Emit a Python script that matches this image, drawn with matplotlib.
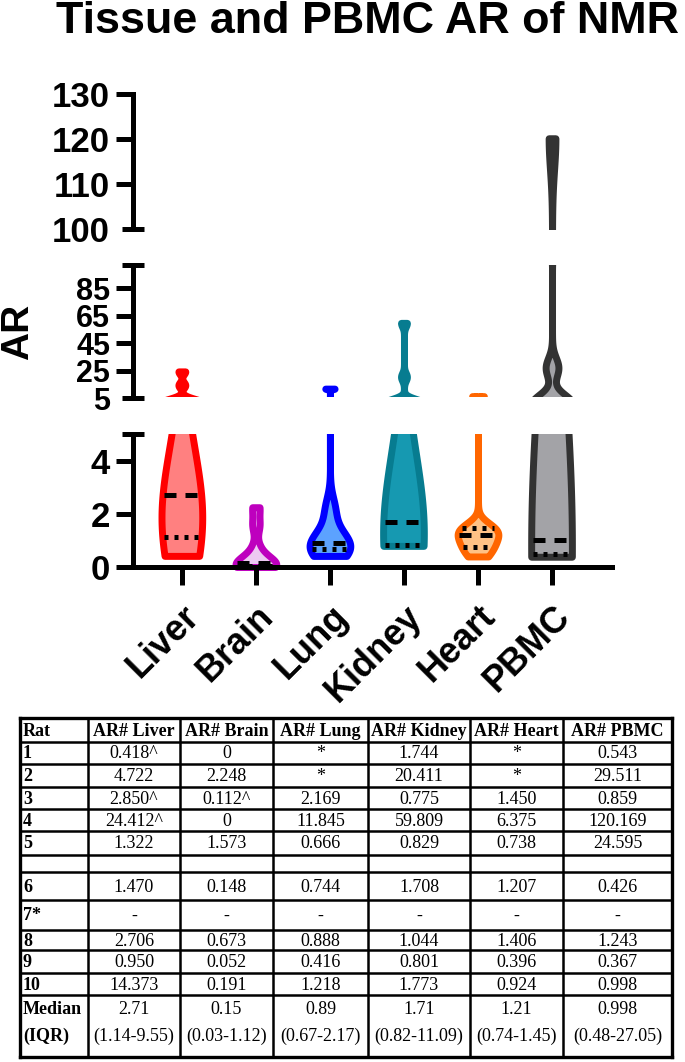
import numpy as np
import matplotlib
matplotlib.use('Agg')
import matplotlib.pyplot as plt
from matplotlib import cbook, mlab
from matplotlib.patches import Rectangle

plt.rcParams['font.family'] = ['Liberation Sans', 'DejaVu Sans']

# ---------------- data ----------------
title = 'Tissue and PBMC AR of NMR'
ylabel = 'AR'
categories = ['Liver', 'Brain', 'Lung', 'Kidney', 'Heart', 'PBMC']
liver = [0.418, 4.722, 2.850, 24.412, 1.322, 1.470, 2.706, 0.950, 14.373]
brain = [0, 2.248, 0.112, 0, 1.573, 0.148, 0.673, 0.052, 0.191]
lung = [2.169, 11.845, 0.666, 0.744, 0.888, 0.416, 1.218]
kidney = [1.744, 20.411, 0.775, 59.809, 0.829, 1.708, 1.044, 0.801, 1.773]
heart = [1.450, 6.375, 0.738, 1.207, 1.406, 0.396, 0.924]
pbmc = [0.543, 29.511, 0.859, 120.169, 24.595, 0.426, 1.243, 0.367, 0.998]
series = [liver, brain, lung, kidney, heart, pbmc]
medians = [2.71, 0.15, 0.89, 1.71, 1.21, 0.998]
q1 = [1.14, 0.03, 0.67, 0.82, 0.74, 0.48]
q3 = [9.55, 1.12, 2.17, 11.09, 1.45, 27.05]

top_ticks = [100, 110, 120, 130]
mid_ticks = [5, 25, 45, 65, 85]
bot_ticks = [0, 2, 4]

table_header = ['Rat', 'AR# Liver', 'AR# Brain', 'AR# Lung', 'AR# Kidney', 'AR# Heart', 'AR# PBMC']
rat_ids = ['1', '2', '3', '4', '5', '6', '7*', '8', '9', '10']
tab_liver = ['0.418^', '4.722', '2.850^', '24.412^', '1.322', '1.470', '-', '2.706', '0.950', '14.373']
tab_brain = ['0', '2.248', '0.112^', '0', '1.573', '0.148', '-', '0.673', '0.052', '0.191']
tab_lung = ['*', '*', '2.169', '11.845', '0.666', '0.744', '-', '0.888', '0.416', '1.218']
tab_kidney = ['1.744', '20.411', '0.775', '59.809', '0.829', '1.708', '-', '1.044', '0.801', '1.773']
tab_heart = ['*', '*', '1.450', '6.375', '0.738', '1.207', '-', '1.406', '0.396', '0.924']
tab_pbmc = ['0.543', '29.511', '0.859', '120.169', '24.595', '0.426', '-', '1.243', '0.367', '0.998']
table_cols = [tab_liver, tab_brain, tab_lung, tab_kidney, tab_heart, tab_pbmc]
median_label = 'Median\n(IQR)'
median_text = ['2.71\n(1.14-9.55)', '0.15\n(0.03-1.12)', '0.89\n(0.67-2.17)',
               '1.71\n(0.82-11.09)', '1.21\n(0.74-1.45)', '0.998\n(0.48-27.05)']

# ---------------- style ----------------
edge_colors = ['#FF0000', '#BE00BE', '#0000FF', '#077C90', '#FF6600', '#333333']
fill_colors = ['#FF8080', '#EDC9F2', '#5CA2FF', '#1699B1', '#FFC285', '#A3A3A7']
bandwidths = [2.2, 0.3, 0.5, 3.0, 0.3, 7.0]
VW = 0.55

W, H = 685, 1062
fig = plt.figure(figsize=(W / 100, H / 100), dpi=100)


def axpix(l, t, r, b):
    return fig.add_axes([l / W, 1 - b / H, (r - l) / W, (b - t) / H])


ax_top = axpix(133, 94, 612, 229)
ax_mid = axpix(133, 265, 612, 398)
ax_bot = axpix(133, 434, 612, 567)
segments = [(ax_top, (100, 130), (0.0, 1.08), top_ticks, 25),
            (ax_mid, (5, 102), (0.012, 1.0), mid_ticks, 22),
            (ax_bot, (0, 5), (-0.07, 1.0), bot_ticks, 25)]

positions = np.arange(1, len(categories) + 1)

stats_all = []
for data, bw in zip(series, bandwidths):
    X = np.asarray(data, float)
    fac = bw / np.std(X, ddof=1)
    st = cbook.violin_stats([X], lambda d, c, f=fac: mlab.GaussianKDE(d, f).evaluate(c), points=4000)
    stats_all.append(st)

for ax, ylim, (c0, c1), ticks, lfs in segments:
    for i in range(len(categories)):
        parts = ax.violin(stats_all[i], positions=[positions[i]], widths=VW,
                          showmeans=False, showextrema=False, showmedians=False)
        for b in parts['bodies']:
            b.set_facecolor(fill_colors[i])
            b.set_edgecolor(edge_colors[i])
            b.set_linewidth(5)
            b.set_alpha(1)
            b.set_joinstyle('round')
            clip = Rectangle((-0.05, c0), 1.1, c1 - c0, transform=ax.transAxes)
            b.set_clip_path(clip)
    ax.set_xlim(0.34, 6.81)
    ax.set_ylim(*ylim)
    ax.set_yticks(ticks, labels=[str(t) for t in ticks], fontsize=lfs, fontweight='bold')
    ax.tick_params(axis='y', direction='out', length=12.5, width=3.6, pad=4)
    for s in ['top', 'right']:
        ax.spines[s].set_visible(False)
    ax.spines['left'].set_linewidth(3.6)
    ax.patch.set_alpha(0)

for ax in (ax_top, ax_mid):
    ax.spines['bottom'].set_visible(False)
    ax.tick_params(axis='x', bottom=False, labelbottom=False)
    ax.yaxis.get_major_ticks()[0].tick1line.set_visible(False)

ax_bot.spines['bottom'].set_linewidth(3.6)
ax_bot.set_xticks(positions, labels=categories, rotation=45, ha='right',
                  rotation_mode='anchor', fontsize=26, fontweight='bold')
ax_bot.tick_params(axis='x', direction='out', length=13, width=3.6, pad=10)

# break caps
for ax, y in [(ax_top, 0), (ax_mid, 0), (ax_mid, 1), (ax_bot, 1)]:
    ax.plot([0], [y], marker='_', ms=16, mew=3.6, color='k',
            transform=ax.transAxes, clip_on=False)

# median / quartile lines
dashed = (0, (2.4, 1.8))
dotted = (0, (0.8, 1.2))
for i in range(len(categories)):
    st = stats_all[i][0]
    coords, vals = st['coords'], st['vals']
    scale = VW / 2 / vals.max()
    for v, ls in [(q1[i], dotted), (q3[i], dotted), (medians[i], dashed)]:
        if v > 5:
            continue
        hw = np.interp(v, coords, vals) * scale * 0.92
        if hw < 0.1:
            continue
        ax_bot.plot([positions[i] - hw, positions[i] + hw], [v, v], color='k', lw=3.6,
                    linestyle=ls, dash_capstyle='butt', solid_capstyle='butt')

# titles
fig.text(367.5 / W, 1 - 33 / H, title, ha='center', va='baseline',
         fontsize=32.3, fontweight='bold')
fig.text(0.5 / W, 1 - 332 / H, ylabel, rotation=90, ha='left', va='center',
         fontsize=28, fontweight='bold')

# ---------------- table ----------------
tax = fig.add_axes([0, 0, 1, 1])
tax.set_xlim(0, W)
tax.set_ylim(H, 0)
tax.axis('off')
col_x = [20, 88, 180, 273, 368, 470, 563, 672]
row_y = [718, 742, 764, 787, 809, 831, 855, 872, 900, 930, 950, 973, 995, 1057]
for k, x in enumerate(col_x):
    tax.plot([x, x], [row_y[0], row_y[-1]], color='k',
             lw=2.4 if k in (0, len(col_x) - 1) else 1.8, solid_capstyle='projecting')
for k, y in enumerate(row_y):
    tax.plot([col_x[0], col_x[-1]], [y, y], color='k',
             lw=2.4 if k in (0, len(row_y) - 1) else 1.8, solid_capstyle='projecting')

serif = ['Liberation Serif', 'DejaVu Serif']
tfs = 13
# header
hy = (row_y[0] + row_y[1]) / 2 + 1
tax.text(col_x[0] + 3, hy, table_header[0], ha='left', va='center', family=serif,
         fontsize=tfs, fontweight='bold')
for j in range(1, len(table_header)):
    tax.text((col_x[j] + col_x[j + 1]) / 2, hy, table_header[j], ha='center', va='center',
             family=serif, fontsize=tfs, fontweight='bold')
# body rows (skip spacer band between 855 and 872)
body_bounds = [(row_y[k], row_y[k + 1]) for k in range(1, 6)] + \
              [(row_y[k], row_y[k + 1]) for k in range(7, 12)]
for r, (y0, y1) in enumerate(body_bounds):
    yc = (y0 + y1) / 2 + 1
    tax.text(col_x[0] + 3, yc, rat_ids[r], ha='left', va='center', family=serif,
             fontsize=tfs, fontweight='bold')
    for j, col in enumerate(table_cols):
        tax.text((col_x[j + 1] + col_x[j + 2]) / 2, yc, col[r], ha='center', va='center',
                 family=serif, fontsize=tfs)
# median row
for li, line in enumerate(median_label.split('\n')):
    tax.text(col_x[0] + 3, 1009 + li * 27, line, ha='left', va='center', family=serif,
             fontsize=tfs, fontweight='bold')
for j, txt in enumerate(median_text):
    for li, line in enumerate(txt.split('\n')):
        tax.text((col_x[j + 1] + col_x[j + 2]) / 2, 1009 + li * 27, line, ha='center',
                 va='center', family=serif, fontsize=tfs)

fig.savefig('out.png', dpi=100)
